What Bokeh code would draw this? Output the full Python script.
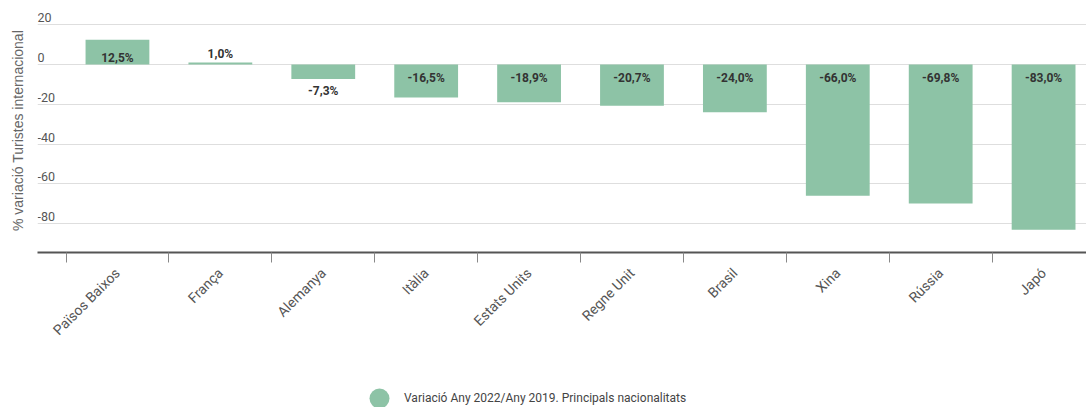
import numpy as np
from bokeh.plotting import figure
from bokeh.layouts import column
from bokeh.models import (ColumnDataSource, FixedTicker, Range1d, Legend, LegendItem)
from bokeh.core.properties import value
from bokeh.embed import file_html
from bokeh.resources import INLINE

# ---- data ----
categories = ["Països Baixos", "França", "Alemanya", "Itàlia", "Estats Units",
              "Regne Unit", "Brasil", "Xina", "Rússia", "Japó"]
variation = [12.5, 1.0, -7.3, -16.5, -18.9, -20.7, -24.0, -66.0, -69.8, -83.0]
value_labels = ["12,5%", "1,0%", "-7,3%", "-16,5%", "-18,9%", "-20,7%",
                "-24,0%", "-66,0%", "-69,8%", "-83,0%"]
y_ticks = [20, 0, -20, -40, -60, -80]
y_tick_labels = ["20", "0", "-20", "-40", "-60", "-80"]
series_name = "Variació Any 2022/Any 2019. Principals nacionalitats"
y_title = "% variació Turistes internacional"

# ---- styling ----
GREEN = "#8dc3a6"
FONT = "Roboto"
n = len(categories)
centers = np.arange(n) + 0.5
bounds = np.arange(n).astype(float)
X_START, X_END = -0.277, 9.917
Y_START, Y_END = -94.5, 28.2

vals = np.array(variation)
short = np.abs(vals) < 10
label_y = np.where(short, vals, 0.0)
label_off = np.where(vals >= 0, np.where(short, -9, -7), np.where(short, 12, 13))

src = ColumnDataSource(dict(x=centers, v=vals, ly=label_y, yoff=label_off,
                            lbl=value_labels, cat=categories))

p = figure(frame_width=1049, frame_height=244,
           x_range=Range1d(X_START, X_END), y_range=Range1d(Y_START, Y_END),
           output_backend="svg", toolbar_location=None,
           min_border_left=37, min_border_right=0, min_border_top=8,
           min_border_bottom=0)
p.outline_line_color = None
p.background_fill_color = "white"

# grid
p.xgrid.visible = False
p.ygrid.ticker = FixedTicker(ticks=y_ticks)
p.ygrid.grid_line_color = "#dedede"
p.ygrid.grid_line_width = 1

# y axis: only the title
ya = p.yaxis[0]
ya.ticker = FixedTicker(ticks=[])
ya.axis_line_color = None
ya.major_tick_line_color = None
ya.minor_tick_line_color = None
ya.axis_label = y_title
ya.axis_label_text_font = "Liberation Sans"
ya.axis_label_text_font_size = "14px"
ya.axis_label_text_font_style = "normal"
ya.axis_label_text_color = "#666666"
ya.axis_label_standoff = 12

# x axis: labels at centres, tick marks at category boundaries
xa = p.xaxis[0]
xa.ticker = FixedTicker(ticks=list(centers), minor_ticks=list(bounds))
xa.major_label_overrides = {float(c): name for c, name in zip(centers, categories)}
xa.major_label_orientation = np.pi / 4
xa.major_label_text_font = FONT
xa.major_label_text_font_size = "14px"
xa.major_label_text_color = "#555555"
xa.major_tick_line_color = None
xa.major_tick_out = 10
xa.major_tick_in = 0
xa.minor_tick_line_color = "#888888"
xa.minor_tick_out = 10
xa.minor_tick_in = 0
xa.major_label_standoff = 8
xa.axis_line_color = "#555555"
xa.axis_line_width = 2

# bars
p.vbar(x="x", top="v", bottom=0, width=0.62, source=src,
       fill_color=GREEN, line_color=None)

# value labels
p.text(x="x", y="ly", text="lbl", y_offset="yoff", source=src,
       text_align="center", text_baseline="middle",
       text_font=value(FONT), text_font_style="bold",
       text_font_size="12px", text_color="#333333")

# y tick labels drawn inside the plot, above their gridlines
p.text(x=[X_START] * len(y_ticks), y=y_ticks, text=y_tick_labels,
       y_offset=-7, text_align="left", text_baseline="middle",
       text_font=value(FONT), text_font_size="12.5px", text_color="#555555")

# ---- legend strip below the chart ----
lg = figure(width=1086, height=61, x_range=Range1d(0, 1), y_range=Range1d(0, 1),
            output_backend="svg", toolbar_location=None,
            x_axis_location=None, y_axis_location=None,
            min_border_left=0, min_border_right=0, min_border_top=0,
            min_border_bottom=0)
lg.outline_line_color = None
lg.xgrid.visible = False
lg.ygrid.visible = False
r = lg.scatter(x="x", y="v", source=src, marker="circle", size=20,
               fill_color=GREEN, line_color=None, visible=False)
legend = Legend(items=[LegendItem(label=series_name, renderers=[r])],
                location=(317, -16), orientation="horizontal",
                border_line_color=None, background_fill_alpha=0,
                padding=0, margin=0, glyph_width=50, glyph_height=50,
                label_standoff=0, label_text_font=FONT,
                label_text_font_size="12px", label_text_color="#444444")
lg.add_layout(legend)

layout = column(p, lg, spacing=0)
open("out.html", "w").write(file_html(layout, INLINE))
